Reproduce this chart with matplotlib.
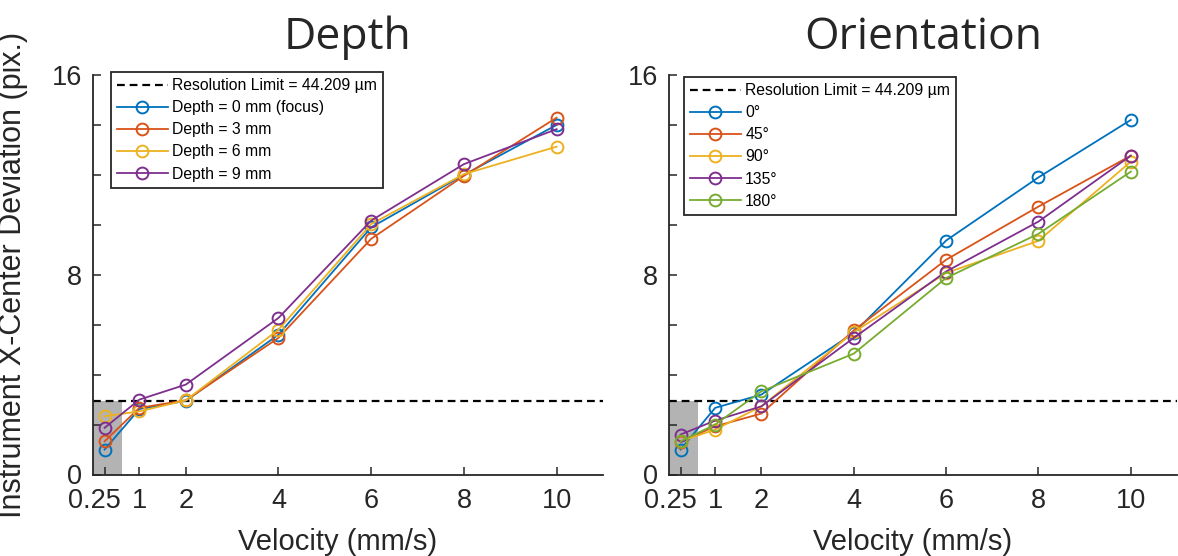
import numpy as np
import matplotlib
matplotlib.use('Agg')
import matplotlib.pyplot as plt
import matplotlib.transforms as mtransforms
from matplotlib.patches import Rectangle

plt.rcParams['font.family'] = ['Liberation Sans', 'DejaVu Sans']

velocity = [0.25, 1, 2, 4, 6, 8, 10]
res_limit = 2.93  # resolution limit in pix (44.209 um)

depth_labels = ['Depth = 0 mm (focus)', 'Depth = 3 mm', 'Depth = 6 mm', 'Depth = 9 mm']
depth_0 = [1.00, 2.62, 2.95, 5.60, 9.90, 12.00, 14.00]
depth_3 = [1.33, 2.67, 2.97, 5.47, 9.44, 11.96, 14.29]
depth_6 = [2.33, 2.53, 2.97, 5.80, 10.03, 12.03, 13.13]
depth_9 = [1.87, 3.00, 3.60, 6.27, 10.17, 12.43, 13.83]

orient_labels = ['0°', '45°', '90°', '135°', '180°']
orient_0 = [1.00, 2.67, 3.20, 5.67, 9.37, 11.90, 14.20]
orient_45 = [1.30, 1.93, 2.44, 5.77, 8.60, 10.73, 12.77]
orient_90 = [1.33, 1.80, 2.73, 5.70, 8.07, 9.36, 12.53]
orient_135 = [1.60, 2.16, 2.73, 5.47, 8.13, 10.13, 12.77]
orient_180 = [1.33, 2.00, 3.33, 4.84, 7.87, 9.64, 12.13]

colors = ['#0072BD', '#D95319', '#EDB120', '#7E2F8E', '#77AC30']
axis_col = '#262626'


def draw_panel(ax, series, labels, title, legend_pos):
    ax.add_patch(Rectangle((0, 0), 0.625, res_limit, facecolor='#b3b3b3',
                           edgecolor='none', zorder=0))
    ax.plot([0, 11], [res_limit, res_limit], color='k', linewidth=1.6,
            dashes=(3.5, 2.2), label='Resolution Limit = 44.209 µm')
    for y, lab, c in zip(series, labels, colors):
        ax.plot(velocity, y, '-o', color=c, markerfacecolor='none',
                markersize=8.5, markeredgewidth=1.4, linewidth=1.3, label=lab)

    ax.set_xlim(0, 11)
    ax.set_ylim(0, 16)
    ax.set_xticks(velocity)
    ax.set_xticklabels(['0.25', '1', '2', '4', '6', '8', '10'])
    ax.set_yticks(np.arange(0, 17, 2))
    ax.set_yticklabels(['0', '', '', '', '8', '', '', '', '16'])
    ax.tick_params(direction='in', length=6, width=1.1, labelsize=19.5,
                   colors=axis_col, labelcolor='#262626')
    ax.tick_params(axis='x', pad=10)
    ax.tick_params(axis='y', pad=8)
    for s in ['top', 'right']:
        ax.spines[s].set_visible(False)
    for s in ['left', 'bottom']:
        ax.spines[s].set_linewidth(1.3)
        ax.spines[s].set_color(axis_col)
    # shift the "0.25" label a little left so it clears "1"
    lab0 = ax.get_xticklabels()[0]
    lab0.set_transform(lab0.get_transform() +
                       mtransforms.ScaledTranslation(-10 / 100, 0, ax.figure.dpi_scale_trans))

    ax.set_xlabel('Velocity (mm/s)', fontsize=21, color='#262626')
    ax.xaxis.set_label_coords(0.48, -0.135)
    ax.set_title(title, fontsize=32, family='Open Sans', color='#262626', pad=19)

    leg = ax.legend(loc='upper left', bbox_to_anchor=legend_pos,
                    bbox_transform=ax.figure.transFigure,
                    fontsize=11.3, handlelength=3.2, handletextpad=0.3,
                    labelspacing=0.45, borderpad=0.4, borderaxespad=0,
                    fancybox=False, framealpha=1)
    leg.get_frame().set_edgecolor('#262626')
    leg.get_frame().set_linewidth(1.3)
    return ax


fig = plt.figure(figsize=(11.78, 5.56), dpi=100)
ax1 = fig.add_axes([93 / 1178, 81.5 / 556, 510 / 1178, 399.5 / 556])
ax2 = fig.add_axes([669 / 1178, 81.5 / 556, 508 / 1178, 399.5 / 556])

draw_panel(ax1, [depth_0, depth_3, depth_6, depth_9], depth_labels, 'Depth',
           (111 / 1178, 1 - 72 / 556))
draw_panel(ax2, [orient_0, orient_45, orient_90, orient_135, orient_180],
           orient_labels, 'Orientation', (684 / 1178, 1 - 77 / 556))

ax1.set_ylabel('Instrument X-Center Deviation (pix.)', fontsize=22, color='#262626')
ax1.yaxis.set_label_coords(-0.128, 0.5)

fig.savefig('out.png', dpi=100)
